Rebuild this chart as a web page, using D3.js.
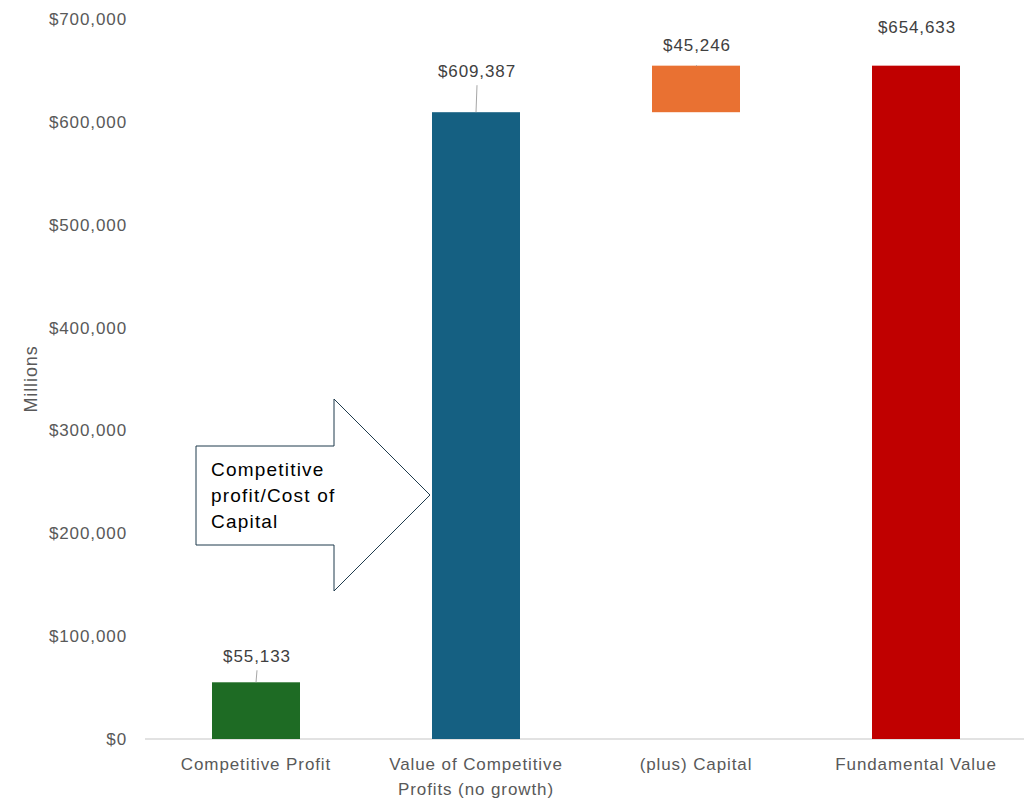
<!DOCTYPE html>
<html>
<head>
<meta charset="utf-8">
<script src="https://cdn.jsdelivr.net/npm/d3@7"></script>
<style>
  body { margin: 0; background: #fff; }
  svg { display: block; font-family: "Liberation Sans", Arial, sans-serif; }
  svg text { letter-spacing: 0.9px; }
</style>
</head>
<body>
<div id="chart"></div>
<script>
// chart data
const categories = [['Competitive Profit'], ['Value of Competitive', 'Profits (no growth)'], ['(plus) Capital'], ['Fundamental Value']];
const barStarts = [0, 0, 609387, 0];
const barEnds = [55133, 609387, 654633, 654633];
const labelTexts = ['$55,133', '$609,387', '$45,246', '$654,633'];
const barColours = ['#1e6b24', '#156082', '#e97132', '#c00000'];
const yTicks = [0, 100000, 200000, 300000, 400000, 500000, 600000, 700000];
const calloutLines = ['Competitive', 'profit/Cost of', 'Capital'];

const width = 1024, height = 799;
const margin = {left: 146, right: -2, top: 19, bottom: 60};

const svg = d3.select('#chart').append('svg')
    .attr('width', width)
    .attr('height', height);

const x = d3.scaleBand()
    .domain(d3.range(categories.length))
    .range([margin.left, width - margin.right])
    .paddingInner(0.6)
    .paddingOuter(0.3);

const y = d3.scaleLinear()
    .domain([0, 700000])
    .range([height - margin.bottom, margin.top]);

// y axis labels
svg.append('g').selectAll('text')
    .data(yTicks)
    .enter().append('text')
        .attr('x', 127)
        .attr('y', d => y(d))
        .attr('dy', '0.35em')
        .attr('text-anchor', 'end')
        .style('font-size', '17px')
        .style('fill', '#595959')
        .text(d => '$' + d3.format(',')(d));

// axis title
svg.append('text')
    .attr('transform', `translate(37, ${y(350000)}) rotate(-90)`)
    .attr('text-anchor', 'middle')
    .style('font-size', '18px')
    .style('fill', '#595959')
    .text('Millions');

// baseline
svg.append('line')
    .attr('x1', 145).attr('x2', width)
    .attr('y1', y(0)).attr('y2', y(0))
    .style('stroke', '#d9d9d9')
    .style('stroke-width', 1.5);

// bars
svg.append('g').selectAll('rect')
    .data(barEnds)
    .enter().append('rect')
        .attr('x', (d, i) => x(i))
        .attr('width', x.bandwidth())
        .attr('y', d => y(d))
        .attr('height', (d, i) => y(barStarts[i]) - y(d))
        .style('fill', (d, i) => barColours[i]);

// leader lines (not on the floating bar)
const labelGap = [12, 27, 0, 25];
svg.append('g').selectAll('line')
    .data(barEnds)
    .enter().filter((d, i) => labelGap[i] > 0).append('line')
        .attr('x1', (d, i) => x(i) + x.bandwidth() / 2)
        .attr('x2', (d, i) => x(i) + x.bandwidth() / 2 + 1)
        .attr('y1', d => y(d))
        .attr('y2', (d, i) => y(d) - labelGap[i])
        .style('stroke', '#a6a6a6')
        .style('stroke-width', 1);

// data labels
svg.append('g').selectAll('text')
    .data(barEnds)
    .enter().append('text')
        .attr('x', (d, i) => x(i) + x.bandwidth() / 2 + 1)
        .attr('y', (d, i) => y(d) - (labelGap[i] || 7) - 8)
        .attr('text-anchor', 'middle')
        .style('font-size', '17px')
        .style('fill', '#404040')
        .text((d, i) => labelTexts[i]);

// category labels
svg.append('g').selectAll('text')
    .data(categories)
    .enter().append('text')
        .attr('x', (d, i) => x(i) + x.bandwidth() / 2)
        .attr('y', 770)
        .attr('text-anchor', 'middle')
        .style('font-size', '17px')
        .style('fill', '#595959')
        .selectAll('tspan')
            .data(d => d)
            .enter().append('tspan')
                .attr('x', function() { return this.parentNode.getAttribute('x'); })
                .attr('dy', (d, k) => k === 0 ? 0 : 25)
                .text(d => d);

// callout arrow
const arrow = d3.path();
arrow.moveTo(196, 446);
arrow.lineTo(334, 446);
arrow.lineTo(334, 399);
arrow.lineTo(430, 495);
arrow.lineTo(334, 591);
arrow.lineTo(334, 545);
arrow.lineTo(196, 545);
arrow.closePath();
svg.append('path')
    .attr('d', arrow.toString())
    .style('fill', '#fff')
    .style('stroke', '#1f3b4d')
    .style('stroke-width', 1);

svg.append('g').selectAll('text')
    .data(calloutLines)
    .enter().append('text')
        .attr('x', 211)
        .attr('y', (d, i) => 476 + i * 26)
        .style('font-size', '19px')
        .style('letter-spacing', '1.2px')
        .style('fill', '#000')
        .text(d => d);
</script>
</body>
</html>
